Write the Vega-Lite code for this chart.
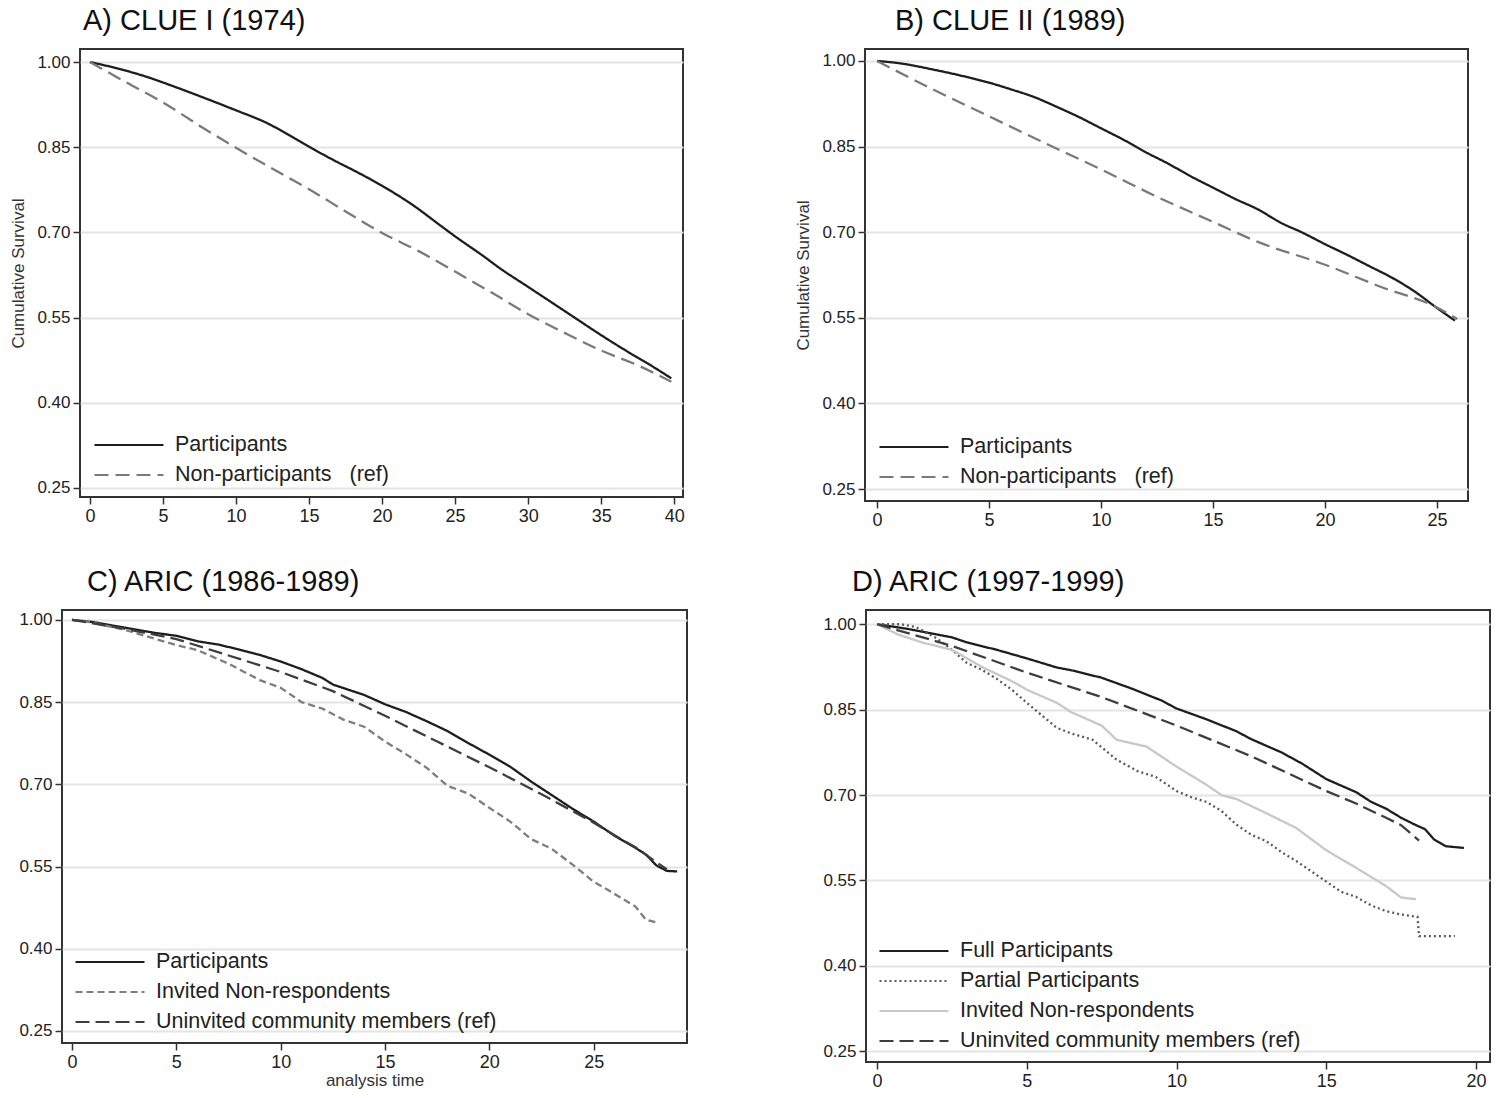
{
  "$schema": "https://vega.github.io/schema/vega-lite/v6.json",
  "background": "white",
  "padding": {"left": 8, "top": 6, "right": 0, "bottom": 0},
  "datasets": {
    "A": [
      {"g": "Participants", "t": 0, "s": 1.0}, {"g": "Participants", "t": 2, "s": 0.988}, {"g": "Participants", "t": 4, "s": 0.973}, {"g": "Participants", "t": 5, "s": 0.964}, {"g": "Participants", "t": 7, "s": 0.945}, {"g": "Participants", "t": 10, "s": 0.915}, {"g": "Participants", "t": 12, "s": 0.894}, {"g": "Participants", "t": 14, "s": 0.866}, {"g": "Participants", "t": 15, "s": 0.851}, {"g": "Participants", "t": 17, "s": 0.823}, {"g": "Participants", "t": 18, "s": 0.81}, {"g": "Participants", "t": 20, "s": 0.782}, {"g": "Participants", "t": 22, "s": 0.75}, {"g": "Participants", "t": 24, "s": 0.712}, {"g": "Participants", "t": 25, "s": 0.693}, {"g": "Participants", "t": 27, "s": 0.657}, {"g": "Participants", "t": 28, "s": 0.638}, {"g": "Participants", "t": 30, "s": 0.604}, {"g": "Participants", "t": 32, "s": 0.57}, {"g": "Participants", "t": 33, "s": 0.553}, {"g": "Participants", "t": 35, "s": 0.519}, {"g": "Participants", "t": 37, "s": 0.487}, {"g": "Participants", "t": 38, "s": 0.472}, {"g": "Participants", "t": 39.8, "s": 0.443},
      {"g": "Non-participants  (ref)", "t": 0, "s": 1.0}, {"g": "Non-participants  (ref)", "t": 2.5, "s": 0.964}, {"g": "Non-participants  (ref)", "t": 5, "s": 0.929}, {"g": "Non-participants  (ref)", "t": 7.5, "s": 0.888}, {"g": "Non-participants  (ref)", "t": 10, "s": 0.849}, {"g": "Non-participants  (ref)", "t": 12.5, "s": 0.812}, {"g": "Non-participants  (ref)", "t": 15, "s": 0.776}, {"g": "Non-participants  (ref)", "t": 17.5, "s": 0.737}, {"g": "Non-participants  (ref)", "t": 20, "s": 0.699}, {"g": "Non-participants  (ref)", "t": 22.5, "s": 0.667}, {"g": "Non-participants  (ref)", "t": 25, "s": 0.631}, {"g": "Non-participants  (ref)", "t": 27.5, "s": 0.594}, {"g": "Non-participants  (ref)", "t": 30, "s": 0.556}, {"g": "Non-participants  (ref)", "t": 32.5, "s": 0.523}, {"g": "Non-participants  (ref)", "t": 35, "s": 0.492}, {"g": "Non-participants  (ref)", "t": 37.5, "s": 0.466}, {"g": "Non-participants  (ref)", "t": 39.8, "s": 0.437}
    ],
    "B": [
      {"g": "Participants", "t": 0, "s": 1.0}, {"g": "Participants", "t": 1, "s": 0.996}, {"g": "Participants", "t": 2.5, "s": 0.985}, {"g": "Participants", "t": 4, "s": 0.972}, {"g": "Participants", "t": 5, "s": 0.962}, {"g": "Participants", "t": 6, "s": 0.95}, {"g": "Participants", "t": 7, "s": 0.937}, {"g": "Participants", "t": 8, "s": 0.92}, {"g": "Participants", "t": 9, "s": 0.902}, {"g": "Participants", "t": 10, "s": 0.882}, {"g": "Participants", "t": 11, "s": 0.862}, {"g": "Participants", "t": 12, "s": 0.84}, {"g": "Participants", "t": 13, "s": 0.82}, {"g": "Participants", "t": 14, "s": 0.798}, {"g": "Participants", "t": 15, "s": 0.778}, {"g": "Participants", "t": 16, "s": 0.758}, {"g": "Participants", "t": 17, "s": 0.74}, {"g": "Participants", "t": 18, "s": 0.717}, {"g": "Participants", "t": 19, "s": 0.699}, {"g": "Participants", "t": 20, "s": 0.679}, {"g": "Participants", "t": 21, "s": 0.66}, {"g": "Participants", "t": 22, "s": 0.64}, {"g": "Participants", "t": 23, "s": 0.62}, {"g": "Participants", "t": 24, "s": 0.596}, {"g": "Participants", "t": 25, "s": 0.567}, {"g": "Participants", "t": 25.8, "s": 0.545},
      {"g": "Non-participants  (ref)", "t": 0, "s": 1.0}, {"g": "Non-participants  (ref)", "t": 2.5, "s": 0.95}, {"g": "Non-participants  (ref)", "t": 5, "s": 0.903}, {"g": "Non-participants  (ref)", "t": 7.5, "s": 0.856}, {"g": "Non-participants  (ref)", "t": 10, "s": 0.81}, {"g": "Non-participants  (ref)", "t": 12.5, "s": 0.762}, {"g": "Non-participants  (ref)", "t": 15, "s": 0.718}, {"g": "Non-participants  (ref)", "t": 17, "s": 0.683}, {"g": "Non-participants  (ref)", "t": 20, "s": 0.643}, {"g": "Non-participants  (ref)", "t": 22.5, "s": 0.604}, {"g": "Non-participants  (ref)", "t": 25, "s": 0.568}, {"g": "Non-participants  (ref)", "t": 25.9, "s": 0.548}
    ],
    "C": [
      {"g": "Participants", "t": 0, "s": 1.0}, {"g": "Participants", "t": 1, "s": 0.996}, {"g": "Participants", "t": 2.5, "s": 0.986}, {"g": "Participants", "t": 4, "s": 0.976}, {"g": "Participants", "t": 5, "s": 0.971}, {"g": "Participants", "t": 6, "s": 0.961}, {"g": "Participants", "t": 7, "s": 0.955}, {"g": "Participants", "t": 8, "s": 0.946}, {"g": "Participants", "t": 9, "s": 0.936}, {"g": "Participants", "t": 10, "s": 0.924}, {"g": "Participants", "t": 11, "s": 0.91}, {"g": "Participants", "t": 12, "s": 0.894}, {"g": "Participants", "t": 12.5, "s": 0.882}, {"g": "Participants", "t": 14, "s": 0.863}, {"g": "Participants", "t": 15, "s": 0.846}, {"g": "Participants", "t": 16, "s": 0.832}, {"g": "Participants", "t": 17, "s": 0.815}, {"g": "Participants", "t": 18, "s": 0.797}, {"g": "Participants", "t": 19, "s": 0.775}, {"g": "Participants", "t": 20, "s": 0.754}, {"g": "Participants", "t": 21, "s": 0.732}, {"g": "Participants", "t": 22, "s": 0.705}, {"g": "Participants", "t": 23, "s": 0.68}, {"g": "Participants", "t": 24, "s": 0.655}, {"g": "Participants", "t": 25, "s": 0.632}, {"g": "Participants", "t": 26, "s": 0.606}, {"g": "Participants", "t": 27, "s": 0.584}, {"g": "Participants", "t": 27.5, "s": 0.572}, {"g": "Participants", "t": 28, "s": 0.552}, {"g": "Participants", "t": 28.5, "s": 0.542}, {"g": "Participants", "t": 29, "s": 0.541},
      {"g": "Invited Non-respondents", "t": 0, "s": 1.0}, {"g": "Invited Non-respondents", "t": 1, "s": 0.995}, {"g": "Invited Non-respondents", "t": 2.5, "s": 0.982}, {"g": "Invited Non-respondents", "t": 5, "s": 0.954}, {"g": "Invited Non-respondents", "t": 6, "s": 0.945}, {"g": "Invited Non-respondents", "t": 7.5, "s": 0.92}, {"g": "Invited Non-respondents", "t": 9, "s": 0.89}, {"g": "Invited Non-respondents", "t": 10, "s": 0.876}, {"g": "Invited Non-respondents", "t": 11, "s": 0.85}, {"g": "Invited Non-respondents", "t": 12, "s": 0.838}, {"g": "Invited Non-respondents", "t": 13, "s": 0.818}, {"g": "Invited Non-respondents", "t": 14, "s": 0.805}, {"g": "Invited Non-respondents", "t": 15, "s": 0.778}, {"g": "Invited Non-respondents", "t": 16, "s": 0.755}, {"g": "Invited Non-respondents", "t": 17, "s": 0.73}, {"g": "Invited Non-respondents", "t": 18, "s": 0.697}, {"g": "Invited Non-respondents", "t": 19, "s": 0.683}, {"g": "Invited Non-respondents", "t": 20, "s": 0.657}, {"g": "Invited Non-respondents", "t": 21, "s": 0.632}, {"g": "Invited Non-respondents", "t": 22, "s": 0.6}, {"g": "Invited Non-respondents", "t": 23, "s": 0.582}, {"g": "Invited Non-respondents", "t": 24, "s": 0.553}, {"g": "Invited Non-respondents", "t": 25, "s": 0.522}, {"g": "Invited Non-respondents", "t": 26, "s": 0.5}, {"g": "Invited Non-respondents", "t": 27, "s": 0.477}, {"g": "Invited Non-respondents", "t": 27.5, "s": 0.453}, {"g": "Invited Non-respondents", "t": 28, "s": 0.448},
      {"g": "Uninvited community members (ref)", "t": 0, "s": 1.0}, {"g": "Uninvited community members (ref)", "t": 2.5, "s": 0.984}, {"g": "Uninvited community members (ref)", "t": 5, "s": 0.965}, {"g": "Uninvited community members (ref)", "t": 7.5, "s": 0.935}, {"g": "Uninvited community members (ref)", "t": 10, "s": 0.905}, {"g": "Uninvited community members (ref)", "t": 12.5, "s": 0.87}, {"g": "Uninvited community members (ref)", "t": 15, "s": 0.825}, {"g": "Uninvited community members (ref)", "t": 17.5, "s": 0.778}, {"g": "Uninvited community members (ref)", "t": 20, "s": 0.731}, {"g": "Uninvited community members (ref)", "t": 22.5, "s": 0.682}, {"g": "Uninvited community members (ref)", "t": 25, "s": 0.63}, {"g": "Uninvited community members (ref)", "t": 26, "s": 0.607}, {"g": "Uninvited community members (ref)", "t": 27, "s": 0.585}, {"g": "Uninvited community members (ref)", "t": 28, "s": 0.558}, {"g": "Uninvited community members (ref)", "t": 28.5, "s": 0.545}
    ],
    "D": [
      {"g": "Full Participants", "t": 0, "s": 1.0}, {"g": "Full Participants", "t": 1, "s": 0.992}, {"g": "Full Participants", "t": 2, "s": 0.982}, {"g": "Full Participants", "t": 2.5, "s": 0.977}, {"g": "Full Participants", "t": 3, "s": 0.968}, {"g": "Full Participants", "t": 4, "s": 0.955}, {"g": "Full Participants", "t": 5, "s": 0.94}, {"g": "Full Participants", "t": 6, "s": 0.924}, {"g": "Full Participants", "t": 6.5, "s": 0.919}, {"g": "Full Participants", "t": 7.5, "s": 0.906}, {"g": "Full Participants", "t": 8.5, "s": 0.887}, {"g": "Full Participants", "t": 9.5, "s": 0.866}, {"g": "Full Participants", "t": 10, "s": 0.852}, {"g": "Full Participants", "t": 11, "s": 0.833}, {"g": "Full Participants", "t": 12, "s": 0.812}, {"g": "Full Participants", "t": 12.5, "s": 0.798}, {"g": "Full Participants", "t": 13.5, "s": 0.775}, {"g": "Full Participants", "t": 14.2, "s": 0.755}, {"g": "Full Participants", "t": 15, "s": 0.728}, {"g": "Full Participants", "t": 16, "s": 0.705}, {"g": "Full Participants", "t": 16.5, "s": 0.688}, {"g": "Full Participants", "t": 17, "s": 0.676}, {"g": "Full Participants", "t": 17.5, "s": 0.66}, {"g": "Full Participants", "t": 18, "s": 0.647}, {"g": "Full Participants", "t": 18.3, "s": 0.64}, {"g": "Full Participants", "t": 18.6, "s": 0.622}, {"g": "Full Participants", "t": 19, "s": 0.61}, {"g": "Full Participants", "t": 19.6, "s": 0.607},
      {"g": "Partial Participants", "t": 0, "s": 1.0}, {"g": "Partial Participants", "t": 0.8, "s": 1.0}, {"g": "Partial Participants", "t": 1.3, "s": 0.995}, {"g": "Partial Participants", "t": 2, "s": 0.975}, {"g": "Partial Participants", "t": 2.5, "s": 0.955}, {"g": "Partial Participants", "t": 3, "s": 0.932}, {"g": "Partial Participants", "t": 3.5, "s": 0.92}, {"g": "Partial Participants", "t": 4, "s": 0.904}, {"g": "Partial Participants", "t": 4.5, "s": 0.885}, {"g": "Partial Participants", "t": 5, "s": 0.862}, {"g": "Partial Participants", "t": 5.5, "s": 0.84}, {"g": "Partial Participants", "t": 6, "s": 0.818}, {"g": "Partial Participants", "t": 6.5, "s": 0.808}, {"g": "Partial Participants", "t": 7.2, "s": 0.797}, {"g": "Partial Participants", "t": 8, "s": 0.762}, {"g": "Partial Participants", "t": 8.7, "s": 0.742}, {"g": "Partial Participants", "t": 9.3, "s": 0.732}, {"g": "Partial Participants", "t": 10, "s": 0.707}, {"g": "Partial Participants", "t": 10.5, "s": 0.696}, {"g": "Partial Participants", "t": 11, "s": 0.688}, {"g": "Partial Participants", "t": 11.5, "s": 0.672}, {"g": "Partial Participants", "t": 12, "s": 0.648}, {"g": "Partial Participants", "t": 12.5, "s": 0.63}, {"g": "Partial Participants", "t": 13, "s": 0.619}, {"g": "Partial Participants", "t": 13.5, "s": 0.6}, {"g": "Partial Participants", "t": 14, "s": 0.584}, {"g": "Partial Participants", "t": 14.5, "s": 0.566}, {"g": "Partial Participants", "t": 15, "s": 0.548}, {"g": "Partial Participants", "t": 15.5, "s": 0.53}, {"g": "Partial Participants", "t": 16, "s": 0.521}, {"g": "Partial Participants", "t": 16.5, "s": 0.506}, {"g": "Partial Participants", "t": 17, "s": 0.496}, {"g": "Partial Participants", "t": 17.5, "s": 0.49}, {"g": "Partial Participants", "t": 18.05, "s": 0.486}, {"g": "Partial Participants", "t": 18.1, "s": 0.452}, {"g": "Partial Participants", "t": 19.3, "s": 0.452},
      {"g": "Invited Non-respondents", "t": 0, "s": 1.0}, {"g": "Invited Non-respondents", "t": 0.7, "s": 0.982}, {"g": "Invited Non-respondents", "t": 1.5, "s": 0.968}, {"g": "Invited Non-respondents", "t": 2.5, "s": 0.955}, {"g": "Invited Non-respondents", "t": 3.5, "s": 0.925}, {"g": "Invited Non-respondents", "t": 4.5, "s": 0.9}, {"g": "Invited Non-respondents", "t": 5, "s": 0.885}, {"g": "Invited Non-respondents", "t": 6, "s": 0.862}, {"g": "Invited Non-respondents", "t": 6.5, "s": 0.845}, {"g": "Invited Non-respondents", "t": 7.5, "s": 0.822}, {"g": "Invited Non-respondents", "t": 8, "s": 0.797}, {"g": "Invited Non-respondents", "t": 9, "s": 0.785}, {"g": "Invited Non-respondents", "t": 10, "s": 0.75}, {"g": "Invited Non-respondents", "t": 11, "s": 0.718}, {"g": "Invited Non-respondents", "t": 11.5, "s": 0.7}, {"g": "Invited Non-respondents", "t": 12, "s": 0.693}, {"g": "Invited Non-respondents", "t": 13, "s": 0.668}, {"g": "Invited Non-respondents", "t": 14, "s": 0.642}, {"g": "Invited Non-respondents", "t": 15, "s": 0.603}, {"g": "Invited Non-respondents", "t": 16, "s": 0.572}, {"g": "Invited Non-respondents", "t": 17, "s": 0.54}, {"g": "Invited Non-respondents", "t": 17.5, "s": 0.52}, {"g": "Invited Non-respondents", "t": 18, "s": 0.517},
      {"g": "Uninvited community members (ref)", "t": 0, "s": 1.0}, {"g": "Uninvited community members (ref)", "t": 2.5, "s": 0.962}, {"g": "Uninvited community members (ref)", "t": 5, "s": 0.915}, {"g": "Uninvited community members (ref)", "t": 7.5, "s": 0.872}, {"g": "Uninvited community members (ref)", "t": 10, "s": 0.822}, {"g": "Uninvited community members (ref)", "t": 12.5, "s": 0.768}, {"g": "Uninvited community members (ref)", "t": 15, "s": 0.707}, {"g": "Uninvited community members (ref)", "t": 16, "s": 0.685}, {"g": "Uninvited community members (ref)", "t": 17, "s": 0.66}, {"g": "Uninvited community members (ref)", "t": 17.5, "s": 0.647}, {"g": "Uninvited community members (ref)", "t": 18.1, "s": 0.62}
    ]
  },
  "config": {
    "font": "Liberation Sans",
    "view": {"stroke": "#333333", "strokeWidth": 2},
    "title": {"anchor": "start", "frame": "group", "fontSize": 29, "fontWeight": "normal", "color": "#111111", "baseline": "alphabetic", "offset": 13},
    "axis": {"labelFontSize": 17, "labelColor": "#222222", "tickColor": "#333333", "tickSize": 7, "tickWidth": 1.5, "domain": false, "labelPadding": 3, "titleFontWeight": "normal", "titleColor": "#333333", "gridColor": "#e4e4e4", "gridWidth": 2},
    "axisX": {"grid": false, "labelFontSize": 18},
    "axisY": {"grid": true, "titleFontSize": 17, "titlePadding": 9},
    "legend": {"orient": "none", "padding": 0, "symbolType": "M-3,0L3,0", "symbolSize": 529, "symbolStrokeWidth": 2.2, "labelFontSize": 21.5, "labelColor": "#222222", "labelOffset": 33, "rowPadding": 6, "labelLimit": 600, "title": null}
  },
  "resolve": {"scale": {"color": "independent", "strokeDash": "independent"}, "legend": {"color": "independent", "strokeDash": "independent"}},
  "spacing": 37,
  "vconcat": [
    {
      "spacing": 0,
      "bounds": "flush",
      "resolve": {"scale": {"color": "independent", "strokeDash": "independent"}, "legend": {"color": "independent", "strokeDash": "independent"}},
      "hconcat": [
        {"width": 18, "height": 10, "view": {"stroke": null}, "data": {"values": []}, "mark": "point"},
        {
          "hconcat": [
            {
              "width": 603, "height": 448,
              "title": {"text": "A) CLUE I (1974)", "dx": 3},
              "data": {"name": "A"},
              "mark": {"type": "line", "strokeWidth": 2.3, "clip": true, "interpolate": "monotone"},
              "encoding": {
                "x": {"field": "t", "type": "quantitative", "scale": {"domain": [-0.68, 40.6], "nice": false, "zero": false}, "axis": {"values": [0, 5, 10, 15, 20, 25, 30, 35, 40], "title": null}},
                "y": {"field": "s", "type": "quantitative", "scale": {"domain": [0.234, 1.023], "nice": false, "zero": false}, "axis": {"values": [0.25, 0.4, 0.55, 0.7, 0.85, 1.0], "format": ".2f", "title": "Cumulative Survival"}},
                "color": {"field": "g", "type": "nominal", "scale": {"domain": ["Participants", "Non-participants  (ref)"], "range": ["#1e1e1e", "#7a7a7a"]}, "legend": {"legendX": 36, "legendY": 383, "labelExpr": "replace(datum.label, '  ', '\u00a0\u00a0 ')"}},
                "strokeDash": {"field": "g", "type": "nominal", "scale": {"domain": ["Participants", "Non-participants  (ref)"], "range": [[1, 0], [14, 7]]}, "legend": {"legendX": 36, "legendY": 383, "labelExpr": "replace(datum.label, '  ', '\u00a0\u00a0 ')"}}
              }
            },
            {
              "width": 603, "height": 452,
              "title": {"text": "B) CLUE II (1989)", "dx": 30},
              "data": {"name": "B"},
              "mark": {"type": "line", "strokeWidth": 2.3, "clip": true, "interpolate": "monotone"},
              "encoding": {
                "x": {"field": "t", "type": "quantitative", "scale": {"domain": [-0.54, 26.38], "nice": false, "zero": false}, "axis": {"values": [0, 5, 10, 15, 20, 25], "title": null}},
                "y": {"field": "s", "type": "quantitative", "scale": {"domain": [0.229, 1.021], "nice": false, "zero": false}, "axis": {"values": [0.25, 0.4, 0.55, 0.7, 0.85, 1.0], "format": ".2f", "title": "Cumulative Survival"}},
                "color": {"field": "g", "type": "nominal", "scale": {"domain": ["Participants", "Non-participants  (ref)"], "range": ["#1e1e1e", "#7a7a7a"]}, "legend": {"legendX": 36, "legendY": 385, "labelExpr": "replace(datum.label, '  ', '\u00a0\u00a0 ')"}},
                "strokeDash": {"field": "g", "type": "nominal", "scale": {"domain": ["Participants", "Non-participants  (ref)"], "range": [[1, 0], [14, 7]]}, "legend": {"legendX": 36, "legendY": 385, "labelExpr": "replace(datum.label, '  ', '\u00a0\u00a0 ')"}}
              }
            }
          ],
          "spacing": 182,
          "bounds": "flush",
          "resolve": {"scale": {"color": "independent", "strokeDash": "independent"}, "legend": {"color": "independent", "strokeDash": "independent"}}
        }
      ]
    },
    {
      "hconcat": [
        {
          "width": 625, "height": 433,
          "title": {"text": "C) ARIC (1986-1989)", "dx": 25},
          "data": {"name": "C"},
          "mark": {"type": "line", "strokeWidth": 2.3, "clip": true},
          "encoding": {
            "x": {"field": "t", "type": "quantitative", "scale": {"domain": [-0.48, 29.47], "nice": false, "zero": false}, "axis": {"values": [0, 5, 10, 15, 20, 25], "title": "analysis time", "titleFontSize": 17, "titlePadding": 1}},
            "y": {"field": "s", "type": "quantitative", "scale": {"domain": [0.228, 1.018], "nice": false, "zero": false}, "axis": {"values": [0.25, 0.4, 0.55, 0.7, 0.85, 1.0], "format": ".2f", "title": null}},
            "color": {"field": "g", "type": "nominal", "scale": {"domain": ["Participants", "Invited Non-respondents", "Uninvited community members (ref)"], "range": ["#1e1e1e", "#7e7e7e", "#3e3e3e"]}, "legend": {"legendX": 35, "legendY": 339}},
            "strokeDash": {"field": "g", "type": "nominal", "scale": {"domain": ["Participants", "Invited Non-respondents", "Uninvited community members (ref)"], "range": [[1, 0], [7, 4], [14, 6]]}, "legend": {"legendX": 35, "legendY": 339}}
          }
        },
        {
          "width": 624, "height": 452,
          "title": {"text": "D) ARIC (1997-1999)", "dx": -14},
          "data": {"name": "D"},
          "mark": {"type": "line", "strokeWidth": 2.3, "clip": true},
          "encoding": {
            "x": {"field": "t", "type": "quantitative", "scale": {"domain": [-0.37, 20.47], "nice": false, "zero": false}, "axis": {"values": [0, 5, 10, 15, 20], "title": null}},
            "y": {"field": "s", "type": "quantitative", "scale": {"domain": [0.231, 1.025], "nice": false, "zero": false}, "axis": {"values": [0.25, 0.4, 0.55, 0.7, 0.85, 1.0], "format": ".2f", "title": null}},
            "color": {"field": "g", "type": "nominal", "scale": {"domain": ["Full Participants", "Partial Participants", "Invited Non-respondents", "Uninvited community members (ref)"], "range": ["#1e1e1e", "#5a5a5a", "#c8c8c8", "#3e3e3e"]}, "legend": {"legendX": 35, "legendY": 328}},
            "strokeDash": {"field": "g", "type": "nominal", "scale": {"domain": ["Full Participants", "Partial Participants", "Invited Non-respondents", "Uninvited community members (ref)"], "range": [[1, 0], [2, 3], [1, 0], [14, 6]]}, "legend": {"legendX": 35, "legendY": 328}}
          }
        }
      ],
      "spacing": 179,
      "bounds": "flush",
      "resolve": {"scale": {"color": "independent", "strokeDash": "independent"}, "legend": {"color": "independent", "strokeDash": "independent"}}
    }
  ]
}
